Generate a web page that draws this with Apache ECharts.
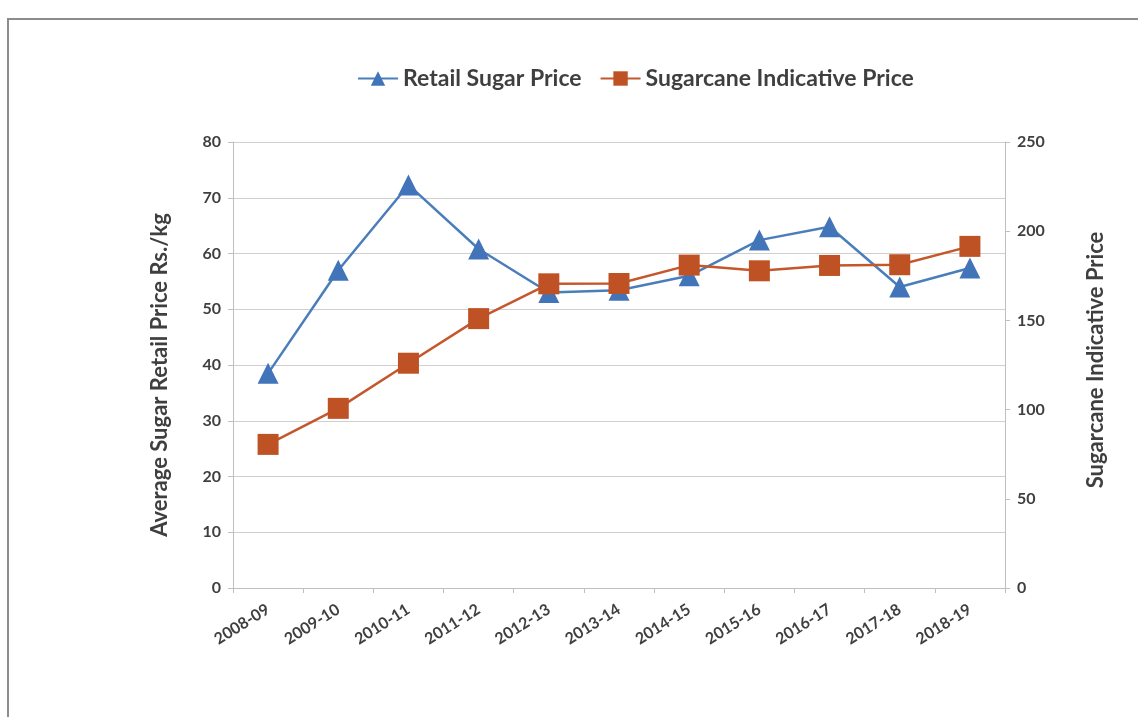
<!DOCTYPE html>
<html>
<head>
<meta charset="utf-8">
<title>Sugar prices</title>
<script src="https://cdn.jsdelivr.net/npm/echarts@6/dist/echarts.min.js"></script>
<style>
  html, body { margin: 0; padding: 0; background: #fff; }
  #chart { width: 1138px; height: 717px; }
</style>
</head>
<body>
<div id="chart"></div>
<script>
// data
var years = ['2008-09', '2009-10', '2010-11', '2011-12', '2012-13', '2013-14',
  '2014-15', '2015-16', '2016-17', '2017-18', '2018-19']
var retailPrice = [38.5, 57, 72.3, 60.8, 53, 53.4, 56, 62.4, 64.8, 54, 57.4]
var canePrice = [80.5, 100.7, 126, 151, 170.5, 170.7, 181, 177.8, 180.8, 181.2, 191.5]

var textColor = '#3f3f3f'
var fontFamily = 'Lato, "Open Sans", sans-serif'

var chart = echarts.init(document.getElementById('chart'))
chart.setOption({
  animation: false,
  textStyle: { fontFamily: fontFamily },
  graphic: [{
    type: 'rect',
    shape: { x: 8, y: 19, width: 1200, height: 760 },
    style: { fill: 'none', stroke: '#8c8c8c', lineWidth: 2 },
    silent: true
  }],
  legend: {
    top: 62,
    left: 352,
    itemGap: 18,
    itemWidth: 40,
    itemHeight: 18,
    textStyle: { color: textColor, fontSize: 23, fontWeight: 'bold', fontFamily: fontFamily },
    data: ['Retail Sugar Price', 'Sugarcane Indicative Price']
  },
  grid: {
    left: 233,
    right: 133,
    top: 142,
    bottom: 129
  },
  xAxis: {
    type: 'category',
    data: years,
    axisLine: { lineStyle: { color: '#bfbfbf' } },
    axisTick: { show: true, length: 5, lineStyle: { color: '#bfbfbf' } },
    axisLabel: {
      rotate: 32,
      margin: 20,
      color: textColor,
      fontSize: 16,
      fontWeight: 'bold',
      fontFamily: fontFamily
    }
  },
  yAxis: [
    {
      type: 'value',
      min: 0,
      max: 80,
      interval: 10,
      name: 'Average Sugar Retail Price Rs./kg',
      nameLocation: 'middle',
      nameRotate: 90,
      nameGap: 62,
      nameTextStyle: { color: textColor, fontSize: 22, fontWeight: 'bold', fontFamily: fontFamily, padding: [0, 20, 0, 0] },
      axisLine: { show: true, lineStyle: { color: '#bfbfbf' } },
      axisTick: { show: true, length: 5, lineStyle: { color: '#bfbfbf' } },
      axisLabel: { color: textColor, fontSize: 16, fontWeight: 'bold', margin: 12 },
      splitLine: { show: true, lineStyle: { color: '#cfcfcf', width: 1 } }
    },
    {
      type: 'value',
      min: 0,
      max: 250,
      interval: 50,
      position: 'right',
      name: 'Sugarcane Indicative Price',
      nameLocation: 'middle',
      nameRotate: 90,
      nameGap: 80,
      nameTextStyle: { color: textColor, fontSize: 22, fontWeight: 'bold', fontFamily: fontFamily, padding: [0, 0, 0, 10] },
      axisLine: { show: true, lineStyle: { color: '#bfbfbf' } },
      axisTick: { show: true, length: 5, lineStyle: { color: '#bfbfbf' } },
      axisLabel: { color: textColor, fontSize: 16, fontWeight: 'bold', margin: 12 },
      splitLine: { show: false }
    }
  ],
  series: [
    {
      name: 'Retail Sugar Price',
      type: 'line',
      yAxisIndex: 0,
      data: retailPrice,
      symbol: 'triangle',
      symbolSize: 21,
      itemStyle: { color: '#4274b9' },
      lineStyle: { color: '#4a7ebb', width: 2.5 },
      z: 3
    },
    {
      name: 'Sugarcane Indicative Price',
      type: 'line',
      yAxisIndex: 1,
      data: canePrice,
      symbol: 'rect',
      symbolSize: 21,
      itemStyle: { color: '#bf5224' },
      lineStyle: { color: '#c4572b', width: 2.5 },
      z: 4
    }
  ]
})
</script>
</body>
</html>
